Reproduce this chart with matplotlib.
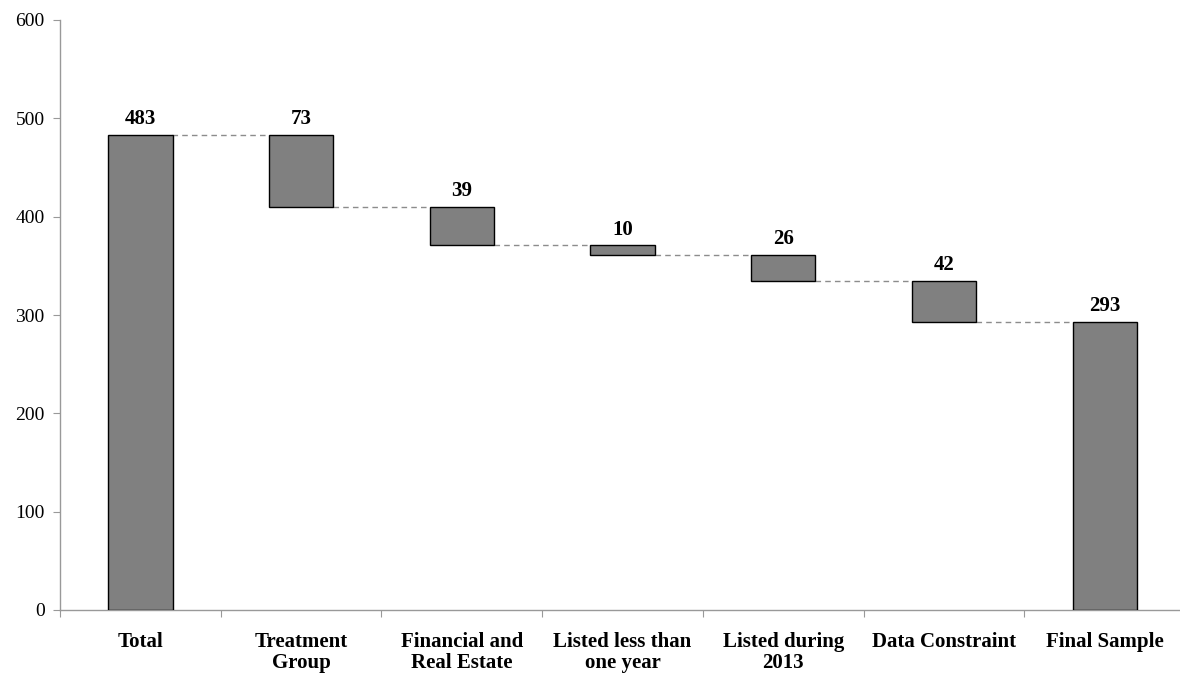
import matplotlib
matplotlib.use("Agg")
import matplotlib.pyplot as plt
import numpy as np

categories = ["Total", "Treatment\nGroup", "Financial and\nReal Estate",
              "Listed less than\none year", "Listed during\n2013",
              "Data Constraint", "Final Sample"]
start_total = 483
reductions = [73, 39, 10, 26, 42]
final_total = 293
y_ticks = [0, 100, 200, 300, 400, 500, 600]

plt.rcParams["font.family"] = ["Liberation Serif", "DejaVu Serif"]

W, H = 1180, 673
fig = plt.figure(figsize=(W / 100, H / 100), dpi=100)
ax = fig.add_axes([60 / W, 63 / H, 1125 / W, 590 / H])

# bottoms and heights of each waterfall step
levels = [start_total]
for r in reductions:
    levels.append(levels[-1] - r)
bottoms = [0] + levels[1:] + [0]
heights = [start_total] + reductions + [final_total]
labels = [start_total] + reductions + [final_total]

x = np.arange(len(categories)) + 0.5
bw = 0.4
ax.bar(x, heights, bottom=bottoms, width=bw, color="#808080",
       edgecolor="black", linewidth=1.0, zorder=3)

for xi, b, h, lab in zip(x, bottoms, heights, labels):
    ax.annotate(str(lab), (xi, b + h), xytext=(0, 4), textcoords="offset points",
                ha="center", va="bottom", fontsize=15, fontweight="bold")

# dashed connectors between consecutive bars
for i in range(len(categories) - 1):
    y = levels[i]
    ax.plot([x[i] + bw / 2, x[i + 1] - bw / 2], [y, y], ls=(0, (4, 3)),
            color="#8c8c8c", lw=1.0, zorder=2)

ax.set_xlim(0, len(categories))
ax.set_ylim(0, 600)
ax.set_yticks(y_ticks)
ax.set_yticklabels([str(t) for t in y_ticks], fontsize=14)
ax.set_xticks(np.arange(len(categories)))
ax.set_xticklabels([])
ax.set_xticks(x, minor=True)
ax.set_xticklabels(categories, minor=True, fontsize=15, fontweight="bold",
                   linespacing=1.05)
ax.tick_params(axis="x", which="minor", length=0, pad=16)
ax.tick_params(axis="x", which="major", length=5, color="#999999", direction="out")
ax.tick_params(axis="y", length=5, color="#999999", direction="out", pad=6)

for s in ["top", "right"]:
    ax.spines[s].set_visible(False)
for s in ["left", "bottom"]:
    ax.spines[s].set_color("#999999")
    ax.spines[s].set_linewidth(1.0)

fig.savefig("out.png", dpi=100)
